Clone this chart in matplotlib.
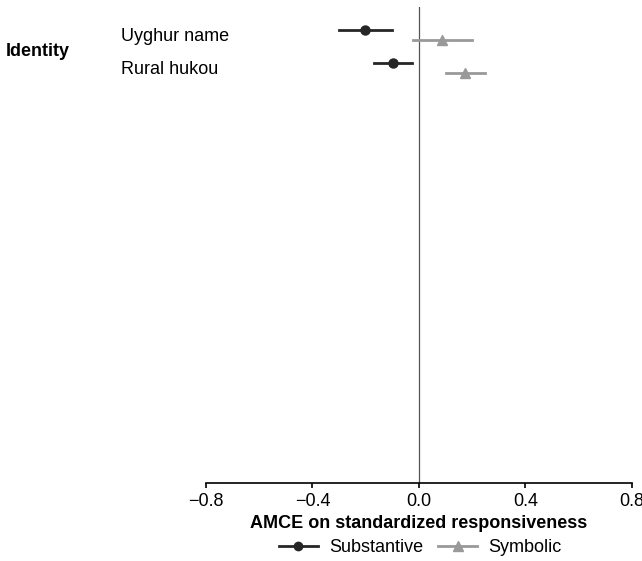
import matplotlib
matplotlib.use("Agg")
import matplotlib.pyplot as plt
import matplotlib.transforms as mtransforms
from matplotlib.lines import Line2D
import numpy as np

plt.rcParams['font.family'] = ['Liberation Sans', 'DejaVu Sans']

attributes = ["Uyghur name", "Rural hukou"]
group_label = "Identity"

sub_est = [-0.203, -0.099]
sub_lo = [-0.300, -0.169]
sub_hi = [-0.100, -0.027]

sym_est = [0.088, 0.171]
sym_lo = [-0.021, 0.100]
sym_hi = [0.200, 0.248]

xticks = [-0.8, -0.4, 0.0, 0.4, 0.8]

fig = plt.figure(figsize=(6.42, 5.61), dpi=100)
ax = fig.add_axes([206 / 642, 78 / 561, 426 / 642, 476 / 561])

pos = np.arange(len(attributes))
off = 0.16
dark = "#262626"
grey = "#999999"

ax.axvline(0, color="#555555", lw=0.9, zorder=1)

# confidence intervals
for i in pos:
    ax.plot([sub_lo[i], sub_hi[i]], [i - off, i - off], color=dark, lw=2, zorder=2)
    ax.plot([sym_lo[i], sym_hi[i]], [i + off, i + off], color=grey, lw=2, zorder=2)
ax.plot(sub_est, pos - off, "o", color=dark, ms=6.5, zorder=3)
ax.plot(sym_est, pos + off, "^", color=grey, ms=7.5, zorder=3)

ax.set_xlim(-0.8, 0.8)
ax.set_ylim(13.55, -0.85)
ax.set_xticks(xticks)
ax.set_xticklabels([f"{t:.1f}".replace("-", "\u2212") for t in xticks], fontsize=13)
ax.set_yticks([])
for s in ["left", "right", "top"]:
    ax.spines[s].set_visible(False)
ax.spines["bottom"].set_linewidth(1.2)
ax.tick_params(axis="x", length=3.5, width=1.2, pad=4)
ax.set_xlabel("AMCE on standardized responsiveness", fontsize=13,
              fontweight="bold", labelpad=3)

# attribute labels and group label
trans = mtransforms.blended_transform_factory(fig.transFigure, ax.transData)
for i, lab in enumerate(attributes):
    ax.text(121 / 642, pos[i] + 0.03, lab, transform=trans, fontsize=13,
            va="center", ha="left")
fig.text(6 / 642, 1 - 51 / 561, group_label, fontsize=13, fontweight="bold",
         va="center", ha="left")

leg_h = [Line2D([], [], color=dark, lw=2, marker="o", ms=6),
         Line2D([], [], color=grey, lw=2, marker="^", ms=7)]
fig.legend(leg_h, ["Substantive", "Symbolic"], loc="center",
           bbox_to_anchor=(420 / 642, 1 - 548 / 561), ncol=2, frameon=False,
           fontsize=13, handlelength=2.2, columnspacing=0.8, handletextpad=0.6,
           borderpad=0)

fig.savefig("out.png", dpi=100)
